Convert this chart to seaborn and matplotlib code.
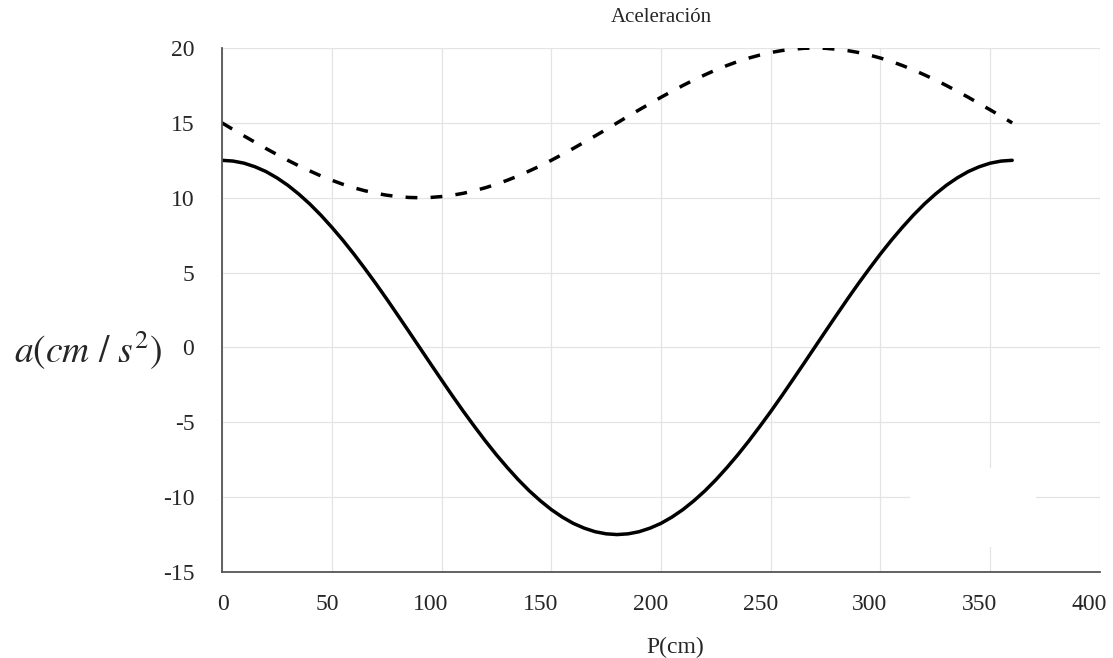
import pandas as pd
import seaborn as sns
import matplotlib.pyplot as plt
from matplotlib.patches import Rectangle
from matplotlib.transforms import ScaledTranslation

p_cm = [0, 5, 10, 15, 20, 25, 30, 35, 40, 45, 50, 55, 60, 65, 70, 75, 80, 85, 90,
        95, 100, 105, 110, 115, 120, 125, 130, 135, 140, 145, 150, 155, 160, 165, 170, 175, 180,
        185, 190, 195, 200, 205, 210, 215, 220, 225, 230, 235, 240, 245, 250, 255, 260, 265, 270,
        275, 280, 285, 290, 295, 300, 305, 310, 315, 320, 325, 330, 335, 340, 345, 350, 355, 360]
acel_solid = [12.5, 12.45, 12.31, 12.07, 11.75, 11.33, 10.83, 10.24, 9.58, 8.84,
              8.03, 7.17, 6.25, 5.28, 4.28, 3.24, 2.17, 1.09, 0.0,
              -1.09, -2.17, -3.24, -4.28, -5.28, -6.25, -7.17, -8.03, -8.84,
              -9.58, -10.24, -10.83, -11.33, -11.75, -12.07, -12.31, -12.45, -12.5,
              -12.45, -12.31, -12.07, -11.75, -11.33, -10.83, -10.24, -9.58, -8.84,
              -8.03, -7.17, -6.25, -5.28, -4.28, -3.24, -2.17, -1.09, 0.0,
              1.09, 2.17, 3.24, 4.28, 5.28, 6.25, 7.17, 8.03, 8.84,
              9.58, 10.24, 10.83, 11.33, 11.75, 12.07, 12.31, 12.45, 12.5]
acel_dashed = [15.0, 14.56, 14.13, 13.71, 13.29, 12.89, 12.5, 12.13, 11.79, 11.46,
               11.17, 10.90, 10.67, 10.47, 10.30, 10.17, 10.08, 10.02, 10.0,
               10.02, 10.08, 10.17, 10.30, 10.47, 10.67, 10.90, 11.17, 11.46,
               11.79, 12.13, 12.5, 12.89, 13.29, 13.71, 14.13, 14.56, 15.0,
               15.44, 15.87, 16.29, 16.71, 17.11, 17.5, 17.87, 18.21, 18.54,
               18.83, 19.10, 19.33, 19.53, 19.70, 19.83, 19.92, 19.98, 20.0,
               19.98, 19.92, 19.83, 19.70, 19.53, 19.33, 19.10, 18.83, 18.54,
               18.21, 17.87, 17.5, 17.11, 16.71, 16.29, 15.87, 15.44, 15.0]
x_ticks = [0, 50, 100, 150, 200, 250, 300, 350, 400]
y_ticks = [-15, -10, -5, 0, 5, 10, 15, 20]

df = pd.DataFrame({"P": p_cm, "solid": acel_solid, "dashed": acel_dashed})

sns.set_style("white")
plt.rcParams['font.family'] = ['Liberation Serif', 'DejaVu Serif']
plt.rcParams['mathtext.fontset'] = 'stix'

fig = plt.figure(figsize=(11.13, 6.58), dpi=100)
ax = fig.add_axes([0.1995, 0.1307, 0.7888, 0.7963])

sns.lineplot(data=df, x="P", y="solid", color="black", lw=2.5, ax=ax)
sns.lineplot(data=df, x="P", y="dashed", color="black", lw=2.5, ax=ax)
ax.lines[-1].set_dashes((3.4, 3.8))

ax.set_xlim(0, 400)
ax.set_ylim(-15, 20)
ax.set_xticks(x_ticks)
ax.set_yticks(y_ticks)
ax.set_xticklabels([str(v) for v in x_ticks], fontsize=17)
ax.set_yticklabels([str(v) for v in y_ticks], fontsize=17)
ax.grid(True, color="#e4e4e4", lw=0.9)
ax.set_axisbelow(True)

for s in ["top", "right"]:
    ax.spines[s].set_visible(False)
for s in ["left", "bottom"]:
    ax.spines[s].set_color("#555555")
    ax.spines[s].set_linewidth(1.3)
ax.tick_params(direction="in", length=6, width=1.1, color="#555555")
ax.tick_params(axis="x", pad=16)
ax.tick_params(axis="y", pad=20)

# x tick labels sit slightly left of their ticks in the original
shift = ScaledTranslation(0.07, 0, fig.dpi_scale_trans)
for lbl in ax.get_xticklabels():
    lbl.set_ha("right")
    lbl.set_transform(lbl.get_transform() + shift)

# blank box in lower right (empty legend area in the original)
ax.add_patch(Rectangle((0.7836, 0.0477), 0.1435, 0.151, transform=ax.transAxes,
                       facecolor="white", edgecolor="none", zorder=1.5))

ax.set_title("Aceleración", fontsize=15, pad=19)
ax.set_xlabel("")
ax.set_ylabel("")
fig.text(0.6065, 0.0165, "P(cm)", fontsize=17, va="center", ha="center")
fig.text(0.013, 0.468, r"$a(cm\ /\ s^{2})$", fontsize=27, va="center", ha="left")

fig.savefig("out.png", dpi=100)
